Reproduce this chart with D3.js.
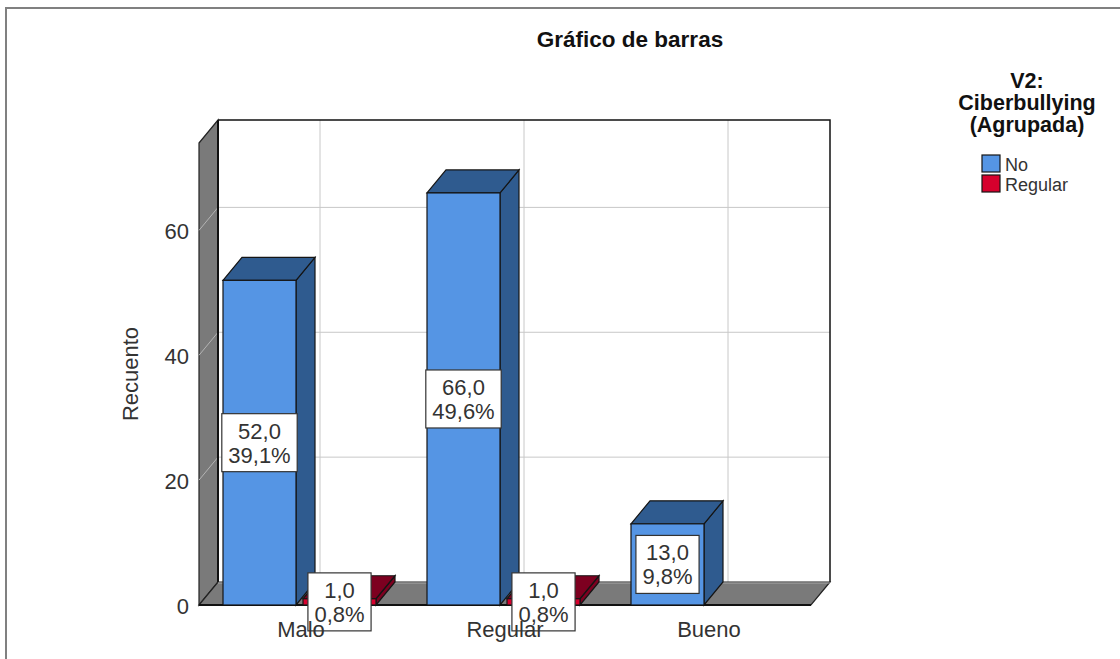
<!DOCTYPE html>
<html>
<head>
<meta charset="utf-8">
<title>Gráfico de barras</title>
<style>
  body { margin: 0; background: #fff; }
  text { font-family: "Liberation Sans", Arial, sans-serif; }
</style>
</head>
<body>
<script src="https://cdn.jsdelivr.net/npm/d3@7"></script>
<script>
// datos
const categories = ['Malo', 'Regular', 'Bueno'];
const series = ['No', 'Regular'];
const countsNo = [52, 66, 13];
const countsRegular = [1, 1, 0];
const pctNo = ['39,1%', '49,6%', '9,8%'];
const pctRegular = ['0,8%', '0,8%', '0,0%'];
const yTicks = [0, 20, 40, 60];

const width = 1120, height = 659;
const DX = 19, DY = -23; // profundidad 3D

const colors = {
  No: { front: '#5595e4', dark: '#2f5b8f' },
  Regular: { front: '#d6002d', dark: '#7d0020' }
};

const svg = d3.select('body').append('svg')
  .attr('width', width).attr('height', height);

// marco exterior
svg.append('path')
  .attr('d', 'M6,' + (height + 5) + 'V8H' + (width + 5))
  .attr('fill', 'none').attr('stroke', '#808080').attr('stroke-width', 2);

// escalas
const y = d3.scaleLinear().domain([0, 74]).range([605, 143]);
const x0 = d3.scaleBand().domain(categories).range([199, 811]);
const x1 = d3.scaleBand().domain(series).range([24, 177]).paddingInner(0.0875);

const xL = x0.range()[0], xR = x0.range()[1];
const yB = y(0), yT = y(74);

const poly = pts => 'M' + pts.map(p => p.join(',')).join('L') + 'Z';

// pared del fondo
svg.append('rect')
  .attr('x', xL + DX).attr('y', yT + DY)
  .attr('width', xR - xL).attr('height', yB - yT)
  .attr('fill', '#fff');

// rejilla del fondo
svg.selectAll('.hgrid').data(yTicks.slice(1)).enter().append('line')
  .attr('x1', xL + DX).attr('x2', xR + DX)
  .attr('y1', d => y(d) + DY).attr('y2', d => y(d) + DY)
  .attr('stroke', '#c8c8c8');
svg.selectAll('.vgrid').data(categories).enter().append('line')
  .attr('x1', d => x0(d) + x0.bandwidth() / 2 + DX)
  .attr('x2', d => x0(d) + x0.bandwidth() / 2 + DX)
  .attr('y1', yT + DY).attr('y2', yB + DY)
  .attr('stroke', '#c8c8c8');

// bordes de la pared del fondo
svg.append('path')
  .attr('d', 'M' + (xL + DX) + ',' + (yT + DY) + 'H' + (xR + DX) + 'V' + (yB + DY))
  .attr('fill', 'none').attr('stroke', '#111').attr('stroke-width', 1.5);

// pared izquierda
svg.append('path')
  .attr('d', poly([[xL, yT], [xL + DX, yT + DY], [xL + DX, yB + DY], [xL, yB]]))
  .attr('fill', '#7a7a7a').attr('stroke', '#222').attr('stroke-width', 1.2);
svg.selectAll('.lgrid').data(yTicks.slice(1)).enter().append('line')
  .attr('x1', xL).attr('x2', xL + DX)
  .attr('y1', d => y(d)).attr('y2', d => y(d) + DY)
  .attr('stroke', '#b4b4b4');
svg.append('line')
  .attr('x1', xL + DX).attr('x2', xL + DX)
  .attr('y1', yT + DY).attr('y2', yB + DY)
  .attr('stroke', '#111').attr('stroke-width', 2);

// suelo
svg.append('path')
  .attr('d', poly([[xL, yB], [xL + DX, yB + DY], [xR + DX, yB + DY], [xR, yB]]))
  .attr('fill', '#7a7a7a').attr('stroke', '#222').attr('stroke-width', 1.2);
svg.append('line')
  .attr('x1', xL + DX).attr('x2', xR + DX)
  .attr('y1', yB + DY + 1).attr('y2', yB + DY + 1)
  .attr('stroke', '#a8a8a8');
svg.append('line')
  .attr('x1', xL).attr('x2', xR).attr('y1', yB).attr('y2', yB)
  .attr('stroke', '#111').attr('stroke-width', 2);

// barras
const bars = [];
categories.forEach((c, i) => {
  bars.push({ cat: c, s: 'No', v: countsNo[i], pct: pctNo[i] });
  bars.push({ cat: c, s: 'Regular', v: countsRegular[i], pct: pctRegular[i] });
});
const shown = bars.filter(d => d.v > 0);

const g = svg.append('g');
shown.forEach(d => {
  const bx = x0(d.cat) + x1(d.s), bw = x1.bandwidth();
  const top = y(d.v), bot = y(0);
  const col = colors[d.s];
  g.append('path')
    .attr('d', poly([[bx + bw, top], [bx + bw + DX, top + DY], [bx + bw + DX, bot + DY], [bx + bw, bot]]))
    .attr('fill', col.dark).attr('stroke', '#151515').attr('stroke-width', 1.2);
  g.append('path')
    .attr('d', poly([[bx, top], [bx + DX, top + DY], [bx + bw + DX, top + DY], [bx + bw, top]]))
    .attr('fill', col.dark).attr('stroke', '#151515').attr('stroke-width', 1.2);
  g.append('rect')
    .attr('x', bx).attr('y', top).attr('width', bw).attr('height', bot - top)
    .attr('fill', col.front).attr('stroke', '#151515').attr('stroke-width', 1.2);
});

// etiquetas de valores
const fmt = v => d3.format('.1f')(v).replace('.', ',');
shown.forEach(d => {
  const cx = x0(d.cat) + x1(d.s) + x1.bandwidth() / 2;
  const cy = (y(d.v) + y(0)) / 2;
  const lg = svg.append('g');
  const box = lg.append('rect');
  const t = lg.append('text')
    .attr('text-anchor', 'middle').attr('font-size', 22).attr('fill', '#333');
  t.append('tspan').attr('x', cx).attr('y', cy - 4).text(fmt(d.v));
  t.append('tspan').attr('x', cx).attr('y', cy + 20).text(d.pct);
  const tw = t.node().getBBox().width;
  const bw = Math.max(tw + 13, 59);
  box.attr('x', cx - bw / 2).attr('y', cy - 29).attr('width', bw).attr('height', 58)
    .attr('fill', '#fff').attr('stroke', '#333').attr('stroke-width', 1.2);
});

// eje y
svg.selectAll('.ytick').data(yTicks).enter().append('text')
  .attr('x', 189).attr('y', d => y(d) + 9)
  .attr('text-anchor', 'end').attr('font-size', 22).attr('fill', '#333')
  .text(d => d);
svg.append('text')
  .attr('transform', 'translate(138,' + ((yT + yB) / 2) + ') rotate(-90)')
  .attr('text-anchor', 'middle').attr('font-size', 22).attr('fill', '#333')
  .text('Recuento');

// eje x
svg.selectAll('.xlab').data(categories).enter().append('text')
  .attr('x', d => x0(d) + x0.bandwidth() / 2).attr('y', 637)
  .attr('text-anchor', 'middle').attr('font-size', 22).attr('fill', '#333')
  .text(d => d);

// título
svg.append('text')
  .attr('x', 630).attr('y', 47)
  .attr('text-anchor', 'middle').attr('font-size', 22.5).attr('font-weight', 'bold')
  .attr('fill', '#111')
  .text('Gráfico de barras');

// leyenda
const legTitle = ['V2:', 'Ciberbullying', '(Agrupada)'];
svg.selectAll('.ltitle').data(legTitle).enter().append('text')
  .attr('x', 1027).attr('y', (d, i) => 88 + i * 22)
  .attr('text-anchor', 'middle').attr('font-size', 21.5).attr('font-weight', 'bold')
  .attr('fill', '#111')
  .text(d => d);
const leg = svg.selectAll('.litem').data(series).enter().append('g')
  .attr('transform', (d, i) => 'translate(982,' + (155 + i * 20) + ')');
leg.append('rect')
  .attr('width', 18).attr('height', 17)
  .attr('fill', d => colors[d].front).attr('stroke', '#151515').attr('stroke-width', 1.2);
leg.append('text')
  .attr('x', 23).attr('y', 16)
  .attr('font-size', 18).attr('fill', '#333')
  .text(d => d);
</script>
</body>
</html>
